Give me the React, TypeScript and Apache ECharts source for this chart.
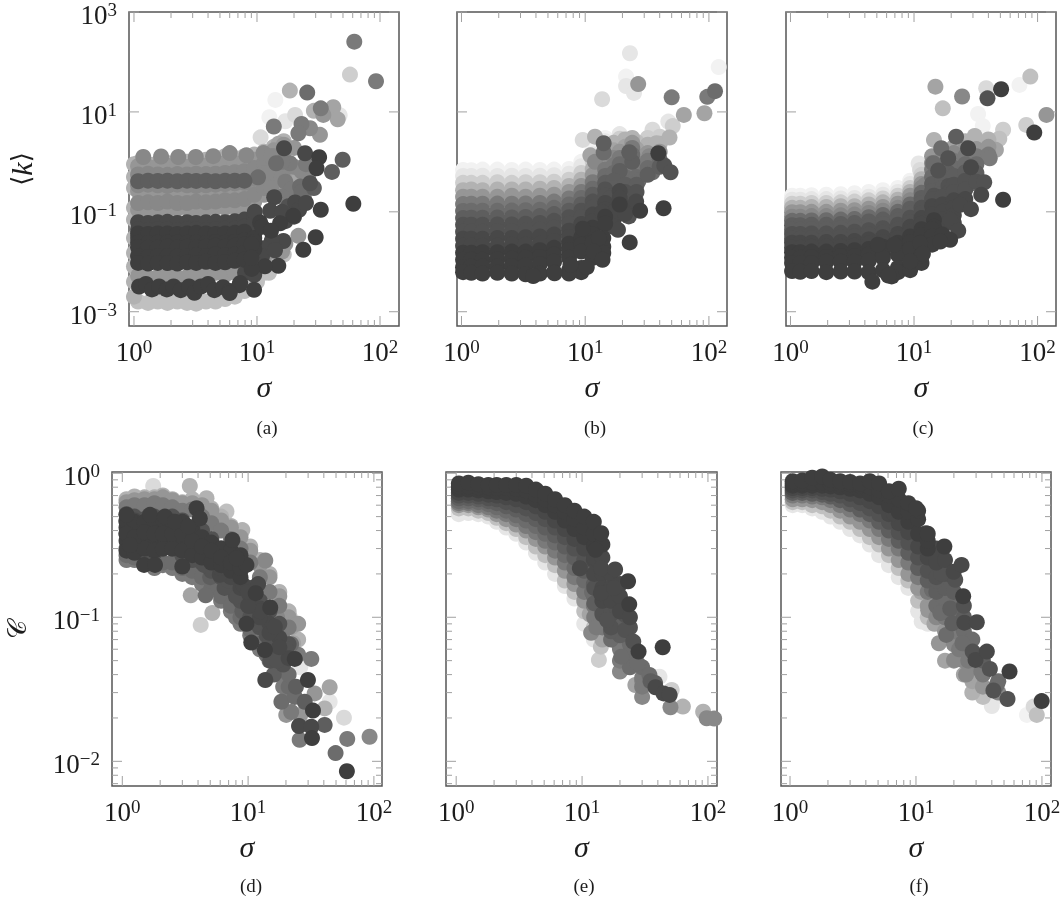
import React, { useEffect, useRef } from "react";
import * as echarts from "echarts";

type Row = [number, number[]];
type Pt = [number, number, number];

// intensity level (0 lightest .. 14 darkest) -> grey
const GRAYS = ["#f2f2f2","#e6e6e6","#dadada","#cecece","#c0c0c0","#b2b2b2","#a4a4a4","#969696","#888888","#7a7a7a","#6c6c6c","#5e5e5e","#525252","#484848","#3e3e3e"];

const xMajor = [1, 10, 100];
const xMinor = [2,3,4,5,6,7,8,9,20,30,40,50,60,70,80,90];
const kMajor = [0.001, 0.1, 10, 1000];
const cMajor = [0.01, 0.1, 1];
const cMinor = [0.007,0.008,0.009,0.02,0.03,0.04,0.05,0.06,0.07,0.08,0.09,0.2,0.3,0.4,0.5,0.6,0.7,0.8,0.9];

// ---------- panel (a) ----------
const aSigma = [1.08,1.3,1.56,1.87,2.25,2.7,3.2,3.85,4.6,5.5,6.6,7.9,9.5,11.4,13.7,16.5];
const aRows: Row[] = [
  [4,[.0016,.0015,.0016,.0015,.0016,.0015,.00145,.0016,.0016,.0018,.002,.0026,.0035,.006,.009,.014]],
  [5,[.95,.9,.95,.95,1.0,1.0,1.05,1.1,1.2,1.3,1.2,1.3,1.4,1.6,2.0,2.6]],
  [7,[.0052,.0048,.005,.0052,.0048,.005,.0055,.0052,.006,.0055,.006,.007,.009,.012,.016,.022]],
  [7,[.82,.8,.82,.84,.85,.8,.82,.85,.9,.95,.95,1.0,1.1,1.3,1.7,2.2]],
  [7,[.26,.25,.27,.26,.25,.28,.26,.27,.27,.28,.3,.32,.4,.55,.8,1.2]],
  [7,[.11,.11,.115,.11,.115,.12,.11,.115,.12,.12,.125,.13,.16,.22,.3,.5]],
  [8,[.15,.155,.15,.16,.15,.15,.16,.155,.16,.17,.17,.18,.22,.3,.45,.7]],
  [8,[.56,.58,.56,.55,.57,.56,.58,.57,.58,.6,.62,.65,.75,.95,1.3,1.8]],
  [8,[.34,.35,.34,.33,.35,.34,.33,.34,.35,.36,.37,.38,.46,.6,.85]],
  [11,[.41,.42,.415,.42,.41,.42,.415,.42,.41,.42,.42,.42]],
  [13,[.062,.06,.062,.063,.06,.062,.06,.062,.063,.062,.065,.07,.085]],
  [13,[.045,.043,.045,.045,.043,.045,.045,.043,.045,.046,.046,.05,.06]],
  [13,[.03,.029,.03,.028,.03,.03,.03,.029,.03,.031,.03,.032,.036]],
  [14,[.037,.036,.037,.037,.036,.037,.038,.037,.036,.037,.038,.04]],
  [14,[.024,.0235,.024,.024,.0245,.024,.024,.0235,.025,.024,.025,.027,.03]],
  [14,[.0195,.019,.019,.02,.019,.02,.019,.02,.021,.02,.021,.022,.025]],
  [14,[.013,.0125,.013,.013,.0128,.013,.0135,.013,.014,.0135,.014,.015,.018]],
  [14,[.0095,.0092,.0095,.0094,.0092,.0098,.0095,.01,.0095,.0098,.0105,.011]],
];
const aTopSigma = [1.19,1.66,2.29,3.18,4.4,6.0,8.2,11.3];
const aTopRows: Row[] = [[8,[1.25,1.28,1.25,1.25,1.3,1.5,1.35,1.5]]];
const aLowSigma = [1.1,1.25,1.4,1.6,1.85,2.1,2.4,2.8,3.1,3.5,4,4.5,5.3,6,7.2];
const aLowRows: Row[] = [[14,[.0032,.0036,.0028,.0032,.0028,.0032,.0027,.0032,.0024,.0032,.0036,.0027,.0031,.0026,.0034]]];
const aRimSigma = [1.0,1.0,1.0,1.0,1.0,1.0,1.0,1.0,1.0,1.0];
const aRimRows: Row[] = [[5,[.9,.5,.3,.12,.07,.03,.015,.008,.004,.002]]];
const aPoints: Pt[] = [
  [61.8,255,9],[57,55.8,3],[92.8,41,9],[18.5,26.7,5],[25.6,24.4,10],[14.1,17.4,0],[12.6,7.8,0],[20.4,8.7,2],[17,6.5,1],
  [33,11.8,9],[29,10.5,5],[34.6,8.7,7],[41.7,12.4,6],[45.3,7.1,6],[47,8.6,1],[13.7,5.1,9],[23,5.75,9],[27,4.7,8],[21.7,3.74,9],
  [32.5,3.47,7],[10.7,3.1,2],[16.6,1.87,13],[24.6,1.49,13],[32,1.24,14],[49.7,1.1,11],[30.5,.746,14],[40.7,.63,11],[14.3,.94,10],
  [18.5,.94,9],[10.2,.49,10],[15,2.3,6],[20,1.9,7],[27,.374,12],[22.4,.32,10],[29,.3,11],[13.8,.196,13],[20.4,.154,13],[33,.11,14],
  [60.7,.145,14],[19.7,.083,14],[10.6,.061,14],[15.4,.059,14],[9.6,.1,13],[12.8,.105,13],[30,.031,14],[21.7,.033,7],[16.4,.026,13],
  [13.2,.0267,13],[9.05,.0225,14],[11.3,.0187,13],[23.8,.0174,14],[14.9,.0083,14],[11.6,.0081,14],[9.05,.0072,14],[9.46,.00275,14],[7.3,.00374,14],
  [6,.00236,14],[16,.016,7],[12.5,.006,4],[10,.004,4],[24,.2,9],[26,.5,8],[20,.55,6],[17,.4,9],
  [13,1.3,8],[16,1.0,9],[20,.8,8],[23,.65,8],[25,.9,9],[14,.7,8],[12,.6,8],[19,.28,9],[23,.25,10],[16,.2,9],[13,.3,8],[11,.25,7],
  [11,.05,14],[13,.042,14],[17,.065,13],[20,.08,13],[22,.11,13],[25,.15,13],[16,.1,13],[18,.13,12],
  [11,.013,13],[14,.017,13],[17,.023,7],[9,.012,14],[8,.006,13],[9.5,.0055,13],[10,.0085,13],
];

// ---------- panel (b) ----------
const bSigma = [1.03,1.2,1.48,1.95,2.55,3.3,4.3,5.6,7.4,9.3,11.5,14.5,19,24];
const bRows: Row[] = [
  [0,[.69,.68,.70,.70,.69,.70,.69,.70,.72,1.0,1.9,3.0]],
  [1,[.52,.52,.53,.52,.53,.52,.53,.54,.58,.82,1.4,2.6,3.6]],
  [3,[.38,.38,.38,.39,.38,.39,.39,.40,.44,.60,1.0,1.9,2.9]],
  [5,[.27,.28,.27,.28,.28,.28,.29,.30,.33,.44,.72,1.3,2.2,3.0]],
  [7,[.20,.20,.20,.20,.21,.20,.21,.22,.25,.33,.54,.95,1.6,2.4]],
  [9,[.143,.145,.145,.146,.145,.147,.15,.16,.185,.25,.39,.70,1.2,1.9]],
  [10,[.104,.105,.105,.105,.106,.108,.11,.12,.14,.19,.29,.52,.9,1.4]],
  [11,[.075,.076,.076,.077,.077,.079,.082,.09,.105,.14,.22,.38,.66,1.0]],
  [12,[.055,.055,.055,.056,.056,.058,.06,.066,.078,.105,.16,.28]],
  [12,[.040,.040,.040,.041,.041,.042,.044,.048,.058,.078,.12,.21]],
  [13,[.029,.029,.029,.03,.03,.031,.032,.035,.042,.057,.088,.15,.26]],
  [13,[.021,.021,.021,.021,.022,.022,.023,.026,.031,.042,.065,.11,.19]],
  [14,[.0152,.0152,.0155,.0155,.016,.016,.017,.019,.023,.031,.048,.08,.14]],
  [14,[.011,.011,.011,.0112,.0115,.012,.0125,.014,.017,.022,.035,.058]],
  [14,[.0078,.008,.008,.008,.0082,.0085,.009,.01,.012,.016,.024]],
  [14,[.0062,.006,.0058,.006,.0058,.0056,.0058,.0062]],
];
const bPoints: Pt[] = [
  [23,149,1],[120,79,0],[26.8,36,7],[21.4,51,0],[21.4,33,1],[24.8,24,1],[13.7,18,2],[50,19.6,9],[97,20,9],[112,26,10],[62.7,8.7,6],[92,9.4,6],
  [47,6.4,1],[51,5.2,3],[35,4.4,2],[48,3.07,5],[9.55,2.75,2],[12,3.2,5],[14.1,2.36,11],[14.1,1.54,10],[12,1,8],[11,1.35,6],[22.7,1.56,11],
  [20.3,2.09,5],[39,1.49,14],[43.6,.845,12],[49,.62,12],[37.6,2.36,5],[29,2.36,3],[35,.62,10],[33,1.3,8],[27,.42,10],[19,.47,10],[21,.347,10],
  [14.5,.32,7],[15.9,.187,12],[18.4,.236,11],[25.8,.16,13],[27.8,.105,14],[22.5,.081,12],[43,.118,14],[13.7,.098,13],[14.1,.047,12],[9.55,.046,14],
  [18.4,.0436,13],[12.9,.0297,14],[22.9,.0244,14],[11.7,.016,14],[13.8,.011,14],[10.3,.0078,14],[7.6,.0087,14],[5.65,.0059,14],[3.8,.0052,14],
];
const bFill: Pt[] = [
  [17,2.4,5],[17,1.7,6],[17,1.2,8],[17,.85,9],[17,.6,10],[17,.42,11],[17,.3,11],[17,.21,12],[17,.15,12],[17,.1,13],[17,.07,13],[17,.05,13],
  [21,2.8,5],[21,2,6],[21,1.4,7],[21,1,8],[21,.7,9],[21,.5,10],[21,.35,11],[21,.25,12],[21,.18,12],[21,.12,13],[21,.09,13],
  [26,2.5,4],[26,1.8,6],[26,1.3,7],[26,.95,8],[26,.68,9],[26,.5,10],[26,.35,11],[26,.25,12],
  [32,3,3],[32,2.2,5],[32,1.5,7],[32,1.05,9],[32,.75,10],[32,.55,11],
  [40,3.2,3],[40,2.3,5],[40,1.6,7],[40,1.1,10],[40,.8,11],
  [14,.03,14],[14,.02,14],[14,.015,14],[11.5,.012,14],[9.3,.0075,14],[9.3,.0062,14],[7.4,.0067,14],[7.4,.0058,14],
];

// ---------- panel (c) ----------
const cSigma = [1.03,1.2,1.48,1.95,2.55,3.3,4.3,5.6,7.4,9.3,11.5,14.5,19];
const cRows: Row[] = [
  [0,[.21,.21,.215,.22,.225,.235,.25,.27,.30,.42,.85]],
  [1,[.175,.175,.18,.18,.185,.19,.2,.22,.25,.36,.72]],
  [3,[.145,.145,.15,.15,.155,.16,.17,.185,.21,.30,.55,1.1]],
  [5,[.12,.12,.125,.125,.13,.13,.14,.155,.175,.25,.45,.85]],
  [7,[.098,.098,.1,.1,.105,.108,.115,.125,.145,.21,.36,.7,1.3]],
  [8,[.08,.08,.082,.082,.085,.088,.095,.105,.12,.17,.3,.55,1.05]],
  [10,[.066,.066,.067,.068,.07,.072,.078,.086,.1,.14,.24,.44,.8]],
  [11,[.054,.054,.055,.055,.057,.06,.064,.07,.082,.115,.19,.35,.6]],
  [11,[.044,.044,.045,.045,.047,.049,.052,.057,.067,.093,.15,.27,.45]],
  [12,[.036,.036,.037,.037,.038,.04,.043,.047,.055,.076,.12,.21,.33]],
  [12,[.029,.029,.03,.03,.031,.032,.035,.038,.045,.062,.095,.16,.24]],
  [13,[.024,.024,.024,.025,.025,.026,.028,.031,.036,.05,.075,.12]],
  [13,[.019,.019,.02,.02,.02,.021,.023,.025,.03,.04,.058,.09]],
  [14,[.0155,.0155,.016,.016,.0165,.017,.018,.02,.024,.032,.045,.068]],
  [14,[.012,.012,.0125,.0125,.013,.013,.014,.016,.019,.025,.034,.05]],
  [14,[.0095,.0095,.0095,.01,.01,.01,.0105,.012,.014,.018,.024]],
  [14,[.0065,.0063,.0065,.0062,.0064,.0064,.0062,.0068,.0075,.009,.014]],
];
const cPoints: Pt[] = [
  [14.9,32,6],[17.1,11.8,4],[24.5,20.3,8],[38.4,29.7,2],[39.3,18.7,12],[50.7,28.4,14],[71.4,34.7,0],[87.4,50.9,4],[118,8.7,7],[81,5.5,3],[94,3.86,14],
  [33,9.1,0],[36,5.2,0],[52.6,4.4,3],[49,2.9,4],[46,1.74,6],[41,1.18,9],[31,3.3,5],[21.9,3.2,11],[14.5,2.75,5],[16.6,1.87,10],[18.9,1.18,12],
  [27.4,1.87,13],[28.9,.78,13],[14.3,.94,10],[15.7,.67,12],[11.2,.69,2],[10.9,.93,1],[12.3,.347,8],[14.5,.347,10],[15.7,.219,11],[21,.374,9],[24,.347,9],
  [29.6,.374,10],[37,.39,12],[35,.219,13],[52.6,.174,14],[23.6,.138,13],[28.9,.113,13],[19.6,.069,13],[22.8,.042,13],[19.6,.0275,14],[16.3,.0255,14],
  [11.2,.0236,14],[11.8,.0145,14],[9.3,.0102,14],[6.6,.0051,14],[6.2,.0053,14],[4.6,.004,14],[6.9,.022,14],[5.1,.022,14],
];
const cFill: Pt[] = [
  [14,1.3,7],[14,.95,8],[14,.7,9],[14,.5,10],[14,.36,11],[14,.26,11],[14,.18,12],[14,.13,13],[14,.09,13],[14,.065,13],[14,.045,14],[14,.032,14],[14,.022,14],
  [17,1.6,7],[17,1.2,8],[17,.85,9],[17,.6,10],[17,.43,11],[17,.3,11],[17,.2,12],[17,.14,13],[17,.1,13],[17,.07,13],[17,.05,13],[17,.035,14],
  [21,2,6],[21,1.5,8],[21,1.05,9],[21,.75,10],[21,.52,11],[21,.35,12],[21,.25,12],[21,.17,13],[21,.12,13],[21,.085,13],[21,.06,13],
  [26,2.6,5],[26,1.9,7],[26,1.3,9],[26,.9,10],[26,.62,11],[26,.42,12],[26,.28,12],[26,.18,13],
  [32,2.6,5],[32,1.8,7],[32,1.3,9],[32,.9,10],[32,.6,11],[32,.4,12],
  [40,2.8,5],[40,2,7],[40,1.4,9],
  [7.4,.0062,14],[9.3,.0068,14],[11.5,.0095,14],[11.5,.013,14],
];

// ---------- panel (d) ----------
const dSigma = [1.08,1.25,1.5,1.8,2.1,2.5,3,3.6,4.3,5.1,6.1,7.3,8.7,10.4,12.4,14.8,17.7,21];
const dRows: Row[] = [
  [5,[.66,.69,.68,.68,.7,.66,.63,.66,.6,.57,.5,.43,.38,.31,.25,.2,.15,.11]],
  [7,[.63,.65,.66,.66,.68,.65,.62,.62,.6,.55,.47,.42,.36,.29,.23,.19,.14,.10]],
  [9,[.58,.6,.6,.62,.6,.58,.55,.56,.5,.45,.40,.35,.30,.24,.19,.15,.12,.085]],
  [9,[.25,.25,.24,.22,.23,.22,.2,.19,.17,.16,.13,.11,.09,.075,.06,.05,.04,.03]],
  [10,[.27,.26,.25,.26,.24,.24,.22,.21,.19,.16,.14,.12,.1,.082,.066,.054,.044,.033]],
  [12,[.52,.5,.48,.5,.46,.5,.47,.42,.4,.35,.3,.25,.21,.16,.13,.11,.09,.065]],
  [13,[.46,.47,.44,.45,.44,.46,.42,.38,.34,.31,.27,.22,.18,.14,.115,.09,.072,.052]],
  [13,[.38,.4,.38,.4,.38,.39,.35,.33,.3,.28,.24,.19,.16,.12,.1,.078,.062]],
  [12,[.3,.3,.29,.28,.3,.3,.27,.25,.24,.21,.19,.16,.13,.1,.085,.065,.052]],
  [14,[.42,.4,.43,.42,.44,.41,.43,.37,.33,.3,.28,.26]],
  [14,[.34,.33,.36,.34,.33,.36,.34,.3,.29,.27,.25,.22]],
  [14,[.47,.46,.46,.47,.48,.46,.46,.41,.36,.33,.3,.29,.27]],
  [14,[.29,.28,.3,.29,.3,.3,.29,.27,.26,.24,.23,.21,.19]],
  [14,[.38,.36,.39,.38,.38,.38,.38,.34,.31,.29,.26,.24,.22]],
];
const dPoints: Pt[] = [
  [1.76,.817,2],[3.44,.817,5],[4.67,.67,5],[6.73,.542,4],[9,.403,5],[13.7,.248,8],[13.2,.207,3],[14,.172,1],[3.5,.142,6],[4.6,.142,10],[5.2,.107,5],[4.2,.0885,3],
  [21.4,.101,4],[22.8,.066,6],[26,.045,1],[31.8,.0514,9],[23.5,.0514,14],[29.9,.0367,14],[13.7,.0367,13],[44.5,.0327,6],[44.5,.0259,1],[40.6,.0233,5],[32.8,.0225,14],
  [57.8,.0201,2],[40.6,.0179,11],[92.4,.0148,8],[61.4,.0143,9],[49.6,.0114,10],[61,.00853,14],[32.2,.0145,14],[25.7,.0141,9],[25.4,.0176,13],[31.8,.0174,13],
  [20.1,.021,7],[18.4,.0259,10],[23.5,.028,10],[28.2,.0259,11],[33.8,.0296,7],[13.6,.0593,14],[10.6,.0667,14],[9.7,.09,14],[16.3,.086,13],[15,.117,14],[11.5,.147,14],
  [9.1,.168,13],[5.96,.197,13],[9.7,.231,14],[7.5,.344,14],[8.1,.257,14],[3,.225,14],[3.89,.571,14],[4.13,.486,14],[1.08,.514,14],[1.66,.514,14],[2.18,.5,14],
  [2.62,.461,14],[3.34,.426,14],[1.15,.318,14],[1.49,.231,14],[1.82,.231,14],[14,.055,10],[16,.04,11],[19,.047,12],[21,.04,10],[17,.06,12],[20,.06,12],[12,.09,12],
  [14,.075,12],[12.5,.11,13],[10,.12,13],[8,.14,12],[6.5,.16,12],[5,.19,11],[15,.05,12],[24,.033,11],[19,.033,9],[22,.022,9],[26,.021,7],
  [25,.09,7],[25,.07,5],[25,.055,9],[22,.085,6],[22,.065,10],[17,.1,8],[17,.075,10],[17,.05,12],[15,.07,12],[19,.09,7],[19,.07,9],
  [12,.13,12],[12,.17,13],[10,.15,13],[8,.2,13],[7,.18,12],[6,.22,13],[4.5,.23,12],[5.5,.25,13],[11,.1,12],[9,.11,11],[8,.1,9],
];

// ---------- panel (e) ----------
const eSigma = [1.05,1.25,1.5,1.8,2.1,2.5,3,3.6,4.3,5.1,6.1,7.3,8.7,10.4,12.4];
const eRows: Row[] = [
  [1,[.52,.53,.52,.5,.46,.42,.38,.33,.28,.24,.2,.165,.135,.09,.07]],
  [4,[.57,.57,.55,.53,.49,.45,.41,.36,.31,.27,.23,.18,.15,.11,.085]],
  [7,[.6,.6,.58,.56,.52,.48,.44,.4,.35,.31,.26,.21,.17,.13,.1]],
  [9,[.62,.62,.6,.58,.55,.52,.48,.43,.39,.34,.29,.24,.19,.15,.12]],
  [10,[.64,.64,.63,.61,.58,.55,.51,.47,.43,.38,.33,.27,.22,.18,.14]],
  [11,[.67,.67,.66,.64,.62,.59,.56,.52,.48,.42,.37,.31,.26,.21,.17]],
  [12,[.70,.7,.69,.67,.66,.63,.6,.57,.53,.48,.42,.36,.3,.25,.2]],
  [13,[.73,.73,.72,.71,.7,.68,.66,.63,.59,.54,.47,.41,.35,.3,.25]],
  [14,[.77,.77,.76,.75,.74,.73,.72,.69,.65,.6,.54,.47,.41,.36,.31]],
  [14,[.81,.81,.8,.8,.79,.79,.78,.76,.71,.66,.6,.54,.48,.42,.38]],
  [14,[.85,.86,.84,.83,.83,.83,.83,.82,.77,.72,.66,.6,.55,.5,.46]],
];
const ePoints: Pt[] = [
  [11.8,.078,8],[13.6,.0506,3],[14.1,.0625,4],[9.6,.219,13],[12.8,.294,14],[14.2,.383,14],[14.2,.219,13],[18.3,.215,13],[23.2,.178,14],[14.1,.147,13],[16.4,.172,11],
  [23.7,.123,14],[22,.104,12],[15.8,.0957,12],[19.7,.0908,10],[22,.0816,12],[25.5,.0678,12],[28.1,.0578,14],[43.7,.0619,14],[19.7,.0643,8],[20.5,.0533,10],[22.9,.0454,8],
  [27.5,.048,10],[26.5,.0339,6],[34.3,.0398,10],[41.2,.0387,1],[38.3,.0327,13],[44.4,.0296,13],[49.6,.0289,13],[51.5,.0313,3],[50.4,.0237,8],[63.2,.024,5],[91.6,.0221,5],
  [97.8,.0199,8],[112,.0198,8],[32,.04,2],[13,.12,9],[14.5,.11,11],[16.5,.13,11],[18.5,.12,12],[12,.15,10],[11.5,.105,6],[13,.085,9],[17,.08,11],[16,.155,12],[10.5,.125,4],
  [18,.16,13],[35,.036,11],[38,.035,11],[30,.036,8],[14.8,.075,3],
];
const eFill: Pt[] = [
  [12.5,.26,13],[12.5,.2,13],[12.5,.16,12],[12.5,.125,11],[12.5,.1,9],
  [14.5,.32,14],[14.5,.26,13],[14.5,.2,13],[14.5,.16,13],[14.5,.13,13],[14.5,.105,12],[14.5,.085,9],[14.5,.07,6],
  [17,.2,13],[17,.16,13],[17,.13,13],[17,.105,12],[17,.085,12],[17,.07,10],
  [20,.17,13],[20,.14,13],[20,.11,13],[20,.09,11],[20,.075,11],[20,.06,9],[20,.05,9],[20,.042,8],
  [24,.1,13],[24,.085,12],[24,.065,10],[24,.055,10],[24,.045,10],
  [30,.045,10],[30,.038,9],[30,.033,9],[30,.028,8],
];

// ---------- panel (f) ----------
const fSigma = [1.05,1.25,1.5,1.8,2.1,2.5,3,3.6,4.3,5.1,6.1,7.3,8.7,10.4,12.4];
const fRows: Row[] = [
  [1,[.6,.6,.57,.54,.5,.46,.41,.37,.32,.27,.23,.19,.16,.11,.09]],
  [4,[.63,.63,.6,.59,.55,.5,.46,.41,.36,.32,.27,.22,.18,.13,.1]],
  [7,[.66,.66,.65,.63,.6,.55,.5,.46,.41,.36,.3,.25,.2,.16,.12]],
  [9,[.7,.7,.69,.68,.65,.6,.56,.52,.47,.41,.35,.3,.24,.19,.15]],
  [11,[.73,.73,.72,.71,.69,.65,.61,.56,.52,.46,.4,.34,.28,.22,.18]],
  [12,[.76,.76,.76,.74,.72,.7,.66,.62,.57,.52,.46,.39,.33,.26,.21]],
  [13,[.79,.79,.79,.78,.77,.75,.72,.68,.64,.59,.52,.45,.39,.31,.26]],
  [14,[.82,.82,.82,.82,.81,.8,.78,.76,.72,.68,.6,.54,.46,.38,.3]],
  [14,[.85,.85,.86,.86,.85,.84,.84,.82,.8,.76,.7,.66,.54,.48,.34]],
  [14,[.88,.89,.93,.95,.9,.88,.87,.85,.88,.85,.75,.78,.62,.55,.38]],
];
const fPoints: Pt[] = [
  [6.66,.527,13],[10,.571,14],[9.6,.474,13],[12,.383,13],[12.5,.31,13],[16.8,.31,14],[15.6,.25,12],[19.9,.207,13],[23,.231,13],[20.5,.182,12],[23.7,.14,14],
  [16.2,.139,10],[13.4,.155,10],[18.7,.115,11],[15.6,.107,10],[19.4,.0908,11],[24.2,.0918,13],[30.4,.0923,13],[12.5,.112,7],[11.1,.0933,1],[15.2,.066,7],[17.4,.0754,10],
  [23.4,.066,10],[28.2,.0578,12],[29.7,.0506,13],[36.5,.0578,13],[38.6,.0438,12],[55.3,.042,14],[20.1,.0506,8],[28.1,.0398,6],[31.4,.0348,5],[43.8,.0339,10],[41.2,.031,12],
  [53.3,.0271,12],[40,.0242,1],[35,.0281,0],[76,.021,0],[91,.021,4],[86,.024,2],[99.5,.0262,14],[47,.0283,1],[22,.06,9],[26,.05,9],[25,.04,8],[14,.09,6],[17,.05,6],[33,.042,9],
  [14.5,.18,11],[18,.16,10],[16,.2,12],[12.5,.2,10],[11,.15,6],
];
const fFill: Pt[] = [
  [14.5,.3,13],[14.5,.24,13],[14.5,.19,12],[14.5,.15,11],[14.5,.12,10],[14.5,.1,8],
  [17,.25,13],[17,.2,12],[17,.16,11],[17,.13,10],[17,.1,9],[17,.08,7],
  [20,.19,12],[20,.15,11],[20,.12,10],[20,.1,10],[20,.08,9],[20,.065,8],[20,.05,7],
  [24,.12,12],[24,.1,11],[24,.08,10],[24,.065,9],[24,.05,8],[24,.04,6],
  [28,.07,10],[28,.055,9],[28,.045,8],[28,.036,6],[28,.03,5],
  [34,.05,11],[34,.04,9],[34,.033,7],[34,.028,4],
  [45,.036,10],[45,.03,8],
];

// ---------- layout ----------
const frames = [
  { left: 129, top: 12, width: 270, height: 314 },
  { left: 457, top: 12, width: 270, height: 314 },
  { left: 786, top: 12, width: 270, height: 314 },
  { left: 112, top: 472, width: 270, height: 314 },
  { left: 446, top: 472, width: 271, height: 314 },
  { left: 781, top: 472, width: 270, height: 314 },
];
const xRanges = [[0.911,142.7],[0.92,140],[0.92,141],[0.828,116],[0.83,118],[0.848,118]];
const kRange = [5.18e-4, 1000];
const cRange = [0.00674, 1.02];
const captions = [["(a)",267,427],["(b)",595,427],["(c)",923,427],["(d)",251,885],["(e)",584,885],["(f)",919,885]];

const rowsToPoints = (sigma: number[], rows: Row[]): Pt[] =>
  rows.flatMap(([lvl, ks]) => ks.map((k, i) => [sigma[i], k, lvl] as Pt));

const panelPoints: Pt[][] = [
  [...rowsToPoints(aSigma, aRows), ...rowsToPoints(aTopSigma, aTopRows), ...rowsToPoints(aLowSigma, aLowRows), ...rowsToPoints(aRimSigma, aRimRows), ...aPoints],
  [...rowsToPoints(bSigma, bRows), ...bFill, ...bPoints],
  [...rowsToPoints(cSigma, cRows), ...cFill, ...cPoints],
  [...rowsToPoints(dSigma, dRows), ...dPoints],
  [...rowsToPoints(eSigma, eRows), ...eFill, ...ePoints],
  [...rowsToPoints(fSigma, fRows), ...fFill, ...fPoints],
];

const TEXT = "#1c1c1c";
const SERIF = "'Liberation Serif','DejaVu Serif',serif";
const powerLabel = (v: number) => {
  const e = Math.round(Math.log10(v));
  return `{b|10}{s|${e < 0 ? "\u2212" + -e : e}}`;
};
const labelRich = {
  b: { fontSize: 27, lineHeight: 22, fontFamily: SERIF, color: TEXT },
  s: { fontSize: 19, lineHeight: 14, fontFamily: SERIF, color: TEXT, padding: [0, 0, 11, 0] },
};

const xTickItem = (params: any, api: any) => {
  const x = api.coord([api.value(0), api.value(1)])[0];
  const r = params.coordSys;
  const len = api.value(2) ? 10 : 6;
  const style = { stroke: "#a0a0a0", lineWidth: 1 };
  return { type: "group", children: [
    { type: "line", shape: { x1: x, y1: r.y + r.height, x2: x, y2: r.y + r.height - len }, style },
    { type: "line", shape: { x1: x, y1: r.y, x2: x, y2: r.y + len }, style },
  ] };
};
const yTickItem = (params: any, api: any) => {
  const y = api.coord([api.value(0), api.value(1)])[1];
  const r = params.coordSys;
  const len = api.value(2) ? 10 : 6;
  const style = { stroke: "#a0a0a0", lineWidth: 1 };
  return { type: "group", children: [
    { type: "line", shape: { x1: r.x, y1: y, x2: r.x + len, y2: y }, style },
    { type: "line", shape: { x1: r.x + r.width, y1: y, x2: r.x + r.width - len, y2: y }, style },
  ] };
};

const buildOption = () => {
  const grid: any[] = [], xAxis: any[] = [], yAxis: any[] = [], series: any[] = [];
  frames.forEach((f, i) => {
    const top = i < 3;
    const yr = top ? kRange : cRange;
    const yMaj = top ? kMajor : cMajor;
    const yMin = top ? [] : cMinor;
    const xr = xRanges[i];
    grid.push({ ...f, show: true, borderColor: "#555555", borderWidth: 1.5, backgroundColor: "transparent", containLabel: false, outerBoundsMode: "none" });
    xAxis.push({
      type: "log", gridIndex: i, min: xr[0], max: xr[1], logBase: 10,
      name: "\u03C3", nameLocation: "middle", nameGap: 45,
      nameTextStyle: { fontFamily: SERIF, fontStyle: "italic", fontSize: 30, color: TEXT },
      axisLine: { show: false }, axisTick: { show: false }, splitLine: { show: false }, minorTick: { show: false }, minorSplitLine: { show: false },
      axisLabel: { customValues: xMajor, formatter: powerLabel, rich: labelRich, margin: 15, hideOverlap: false, showMinLabel: true, showMaxLabel: true },
    });
    const leftCol = i === 0 || i === 3;
    yAxis.push({
      type: "log", gridIndex: i, min: yr[0], max: yr[1], logBase: 10,
      ...(i === 0 ? { name: "{r|\u27E8}{i|k}{r|\u27E9}", nameGap: 93, nameRotate: 90, nameLocation: "middle",
            nameTextStyle: { color: TEXT, rich: {
              r: { fontFamily: "'DejaVu Serif',serif", fontSize: 26, color: TEXT },
              i: { fontFamily: SERIF, fontStyle: "italic", fontSize: 30, color: TEXT },
            } } } : {}),
      ...(i === 3 ? { name: "\uD835\uDC9E", nameGap: 82, nameRotate: 90, nameLocation: "middle",
            nameTextStyle: { fontFamily: "'DejaVu Sans','Noto Sans',serif", fontSize: 26, color: TEXT } } : {}),
      axisLine: { show: false }, axisTick: { show: false }, splitLine: { show: false }, minorTick: { show: false }, minorSplitLine: { show: false },
      axisLabel: leftCol
        ? { customValues: yMaj, formatter: powerLabel, rich: labelRich, margin: 12, padding: [6, 0, 0, 0], hideOverlap: false, showMinLabel: true, showMaxLabel: true }
        : { show: false },
    });
    series.push({
      type: "custom", xAxisIndex: i, yAxisIndex: i, renderItem: xTickItem, silent: true, z: 1, clip: false,
      encode: { x: 0, y: 1 },
      data: [...xMajor.map(v => [v, yr[0], 1]), ...xMinor.map(v => [v, yr[0], 0])].filter(d => d[0] >= xr[0] && d[0] <= xr[1]),
    });
    series.push({
      type: "custom", xAxisIndex: i, yAxisIndex: i, renderItem: yTickItem, silent: true, z: 1, clip: false,
      encode: { x: 0, y: 1 },
      data: [...yMaj.map(v => [xr[0], v, 1]), ...yMin.map(v => [xr[0], v, 0])].filter(d => d[1] >= yr[0] && d[1] <= yr[1]),
    });
    const pts = panelPoints[i].map((p, n) => ({ p, n })).sort((a, b) => a.p[2] - b.p[2] || a.n - b.n).map(o => o.p);
    series.push({
      type: "scatter", xAxisIndex: i, yAxisIndex: i, symbol: "circle", symbolSize: 16, clip: false, z: 2, silent: true,
      itemStyle: { color: (d: any) => GRAYS[d.value[2]], opacity: 1, borderWidth: 0 },
      encode: { x: 0, y: 1 },
      data: pts,
    });
  });
  const graphic = captions.map(([t, x, y]) => ({
    type: "text", x: x as number, y: y as number,
    style: { text: t as string, textAlign: "center", textVerticalAlign: "middle", align: "center", verticalAlign: "middle",
      fontFamily: SERIF, fontSize: 19, fill: TEXT },
  }));
  return { animation: false, backgroundColor: "#ffffff", graphic, grid, xAxis, yAxis, series, tooltip: { show: false } };
};

export default function App() {
  const ref = useRef<HTMLDivElement>(null);
  useEffect(() => {
    document.body.style.margin = "0";
    const chart = echarts.init(ref.current!, undefined, { renderer: "svg" });
    chart.setOption(buildOption() as any);
    return () => chart.dispose();
  }, []);
  return <div ref={ref} style={{ position: "absolute", left: 0, top: 0, width: 1062, height: 899, filter: "blur(0.6px)" }} />;
}
